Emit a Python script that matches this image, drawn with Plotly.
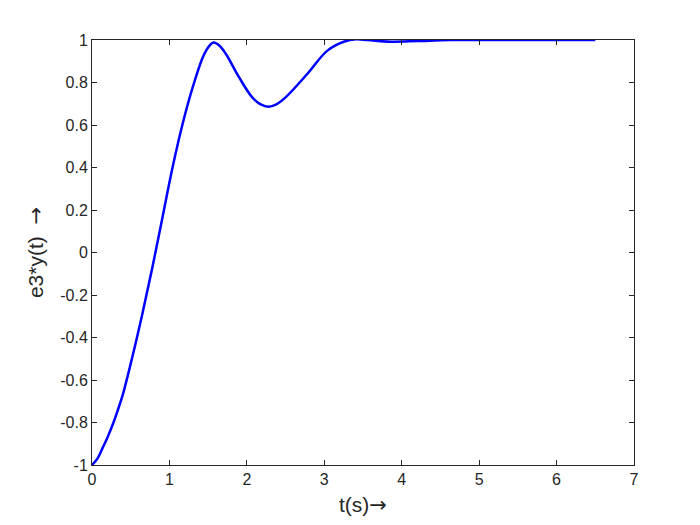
import plotly.graph_objects as go

t = [0, 0.07, 0.14, 0.2, 0.27, 0.33, 0.40, 0.52, 0.65, 0.78, 0.91, 1.04, 1.17,
     1.30, 1.43, 1.50, 1.57, 1.65, 1.73, 1.90, 2.07, 2.18, 2.28, 2.38, 2.50,
     2.78, 3.04, 3.26, 3.41, 3.56, 3.86, 4.20, 4.63, 5.5, 6.5]
y = [-1.0, -0.97, -0.917, -0.87, -0.807, -0.745, -0.666, -0.493, -0.289, -0.07,
     0.165, 0.40, 0.605, 0.777, 0.918, 0.965, 0.988, 0.972, 0.934, 0.824, 0.73,
     0.697, 0.686, 0.697, 0.73, 0.84, 0.95, 0.993, 1.003, 1.0, 0.992, 0.995,
     1.0, 1.0, 1.0]

x_ticks = [0, 1, 2, 3, 4, 5, 6, 7]
y_ticks = [-1, -0.8, -0.6, -0.4, -0.2, 0, 0.2, 0.4, 0.6, 0.8, 1]
y_labels = ["-1", "-0.8", "-0.6", "-0.4", "-0.2", "0", "0.2", "0.4", "0.6", "0.8", "1"]

axcol = "#262626"
font = "Liberation Sans, Arial, sans-serif"
arrow = '<span style="font-family:DejaVu Sans">→</span>'

fig = go.Figure()
fig.add_trace(go.Scatter(x=t, y=y, mode="lines",
                         line=dict(color="#0000ff", width=2.5, shape="spline", smoothing=1.0)))

common = dict(showgrid=False, zeroline=False, showline=True, linecolor=axcol, linewidth=1,
              mirror="ticks", ticks="inside", ticklen=5, tickcolor=axcol,
              tickfont=dict(family=font, size=16, color=axcol))
fig.update_xaxes(range=[0, 7], tickvals=x_ticks,
                 title=dict(text="t(s)" + arrow, font=dict(family=font, size=21, color=axcol), standoff=10),
                 **common)
fig.update_yaxes(range=[-1, 1], tickvals=y_ticks, ticktext=y_labels,
                 title=dict(text="e3*y(t)  " + arrow, font=dict(family=font, size=21, color=axcol), standoff=10),
                 **common)
fig.update_layout(width=700, height=525, showlegend=False,
                  plot_bgcolor="white", paper_bgcolor="white",
                  margin=dict(l=84, r=74, t=32, b=68))
fig.write_html("out.html")
